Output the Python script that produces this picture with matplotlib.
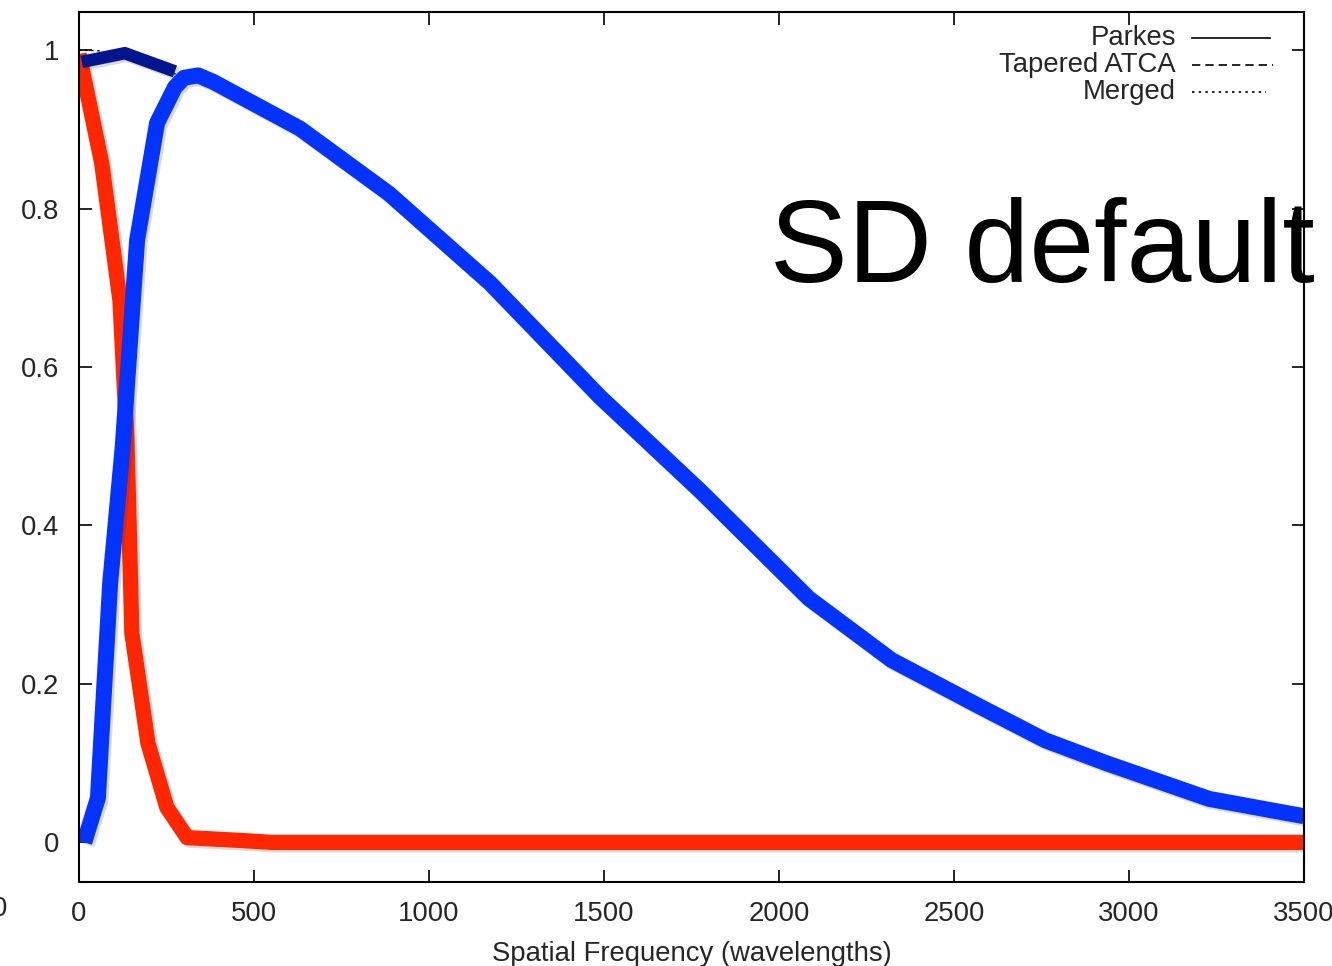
import matplotlib
matplotlib.use("Agg")
import matplotlib.pyplot as plt
import matplotlib.patheffects as pe
from matplotlib.lines import Line2D

plt.rcParams['font.family'] = ['Liberation Sans', 'DejaVu Sans']

# Parkes single-dish response (red)
parkes_x = [0, 65, 117, 137, 151, 197, 251, 309, 460, 550, 3500]
parkes_y = [0.995, 0.857, 0.684, 0.508, 0.264, 0.125, 0.044, 0.006, 0.0025, 0.0, 0.0]

# Tapered ATCA response (blue)
atca_x = [15, 54, 89, 125, 166, 223, 274, 300, 340, 383, 631, 885, 1174, 1489,
          1774, 2085, 2322, 2580, 2760, 2935, 3228, 3500]
atca_y = [0.0, 0.056, 0.327, 0.50, 0.76, 0.908, 0.953, 0.965, 0.968, 0.96, 0.901,
          0.819, 0.706, 0.562, 0.444, 0.308, 0.23, 0.17, 0.129, 0.10, 0.055, 0.033]

# Merged response at low spatial frequency (navy)
merged_x = [8, 131, 274]
merged_y = [0.985, 0.996, 0.973]

# Thin reference curves underneath
thin_merged_x = [0, 60, 131, 274, 340, 631, 885, 1174, 1489, 1774, 2085, 2322, 2580, 2760, 2935, 3228, 3500]
thin_merged_y = [1.0, 0.999, 0.99, 0.97, 0.968, 0.901, 0.819, 0.706, 0.562, 0.444, 0.308, 0.23, 0.17,
                 0.129, 0.10, 0.055, 0.033]

legend_labels = ["Parkes", "Tapered ATCA", "Merged"]
x_ticks = [0, 500, 1000, 1500, 2000, 2500, 3000, 3500]
y_ticks = [0, 0.2, 0.4, 0.6, 0.8, 1.0]
y_tick_labels = ["0", "0.2", "0.4", "0.6", "0.8", "1"]

W, H = 1332, 966
fig = plt.figure(figsize=(W / 100, H / 100), dpi=100)
ax = fig.add_axes([79 / W, 1 - 882 / H, (1304 - 79) / W, (882 - 12) / H])
ax.set_xlim(0, 3500)
ax.set_ylim(-0.05, 1.048)

text_color = '#262626'
fs = 19.8

# thin black gnuplot-style curves
ax.plot(parkes_x, parkes_y, color='black', lw=1.1, ls='-', zorder=2)
ax.plot(atca_x, atca_y, color='black', lw=1.1, ls=(0, (5, 3)), zorder=2)
ax.plot(thin_merged_x, thin_merged_y, color='black', lw=1.1, ls=(0, (1.5, 2.5)), zorder=2)

shadow = [pe.SimpleLineShadow(offset=(1.8, -1.8), shadow_color='0.2', alpha=0.18), pe.Normal()]

ax.plot(parkes_x, parkes_y, color='#ff2600', lw=11, solid_capstyle='butt',
        solid_joinstyle='round', zorder=3, path_effects=shadow)
ax.plot(merged_x, merged_y, color='#03168f', lw=9, solid_capstyle='butt',
        solid_joinstyle='round', zorder=4, path_effects=shadow)
ax.plot(atca_x, atca_y, color='#0433ff', lw=11.5, solid_capstyle='butt',
        solid_joinstyle='round', zorder=5, path_effects=shadow)

# axes frame and ticks
for s in ax.spines.values():
    s.set_linewidth(1.5)
    s.set_color('black')
    s.set_zorder(6)
ax.set_xticks(x_ticks)
ax.set_yticks(y_ticks)
ax.set_yticklabels(y_tick_labels)
ax.tick_params(direction='in', length=9, width=1.2, top=True, right=True,
               labelsize=fs, colors='black', labelcolor=text_color)
ax.tick_params(axis='x', pad=14)
ax.tick_params(axis='y', pad=14)
ax.set_xlabel("Spatial Frequency (wavelengths)", fontsize=fs, color=text_color, labelpad=10)

# gnuplot-style key
styles = ['-', (0, (5, 3)), (0, (1.5, 2.5))]
ys = [0.970, 0.939, 0.908]
ends = [0.9722, 0.9745, 0.9690]
for lab, st, yy, xe in zip(legend_labels, styles, ys, ends):
    ax.text(0.8955, yy, lab, transform=ax.transAxes, ha='right', va='center',
            fontsize=fs, color=text_color, zorder=7)
    ax.add_line(Line2D([0.9086, xe], [yy, yy], transform=ax.transAxes, color='black',
                       lw=1.2, ls=st, zorder=7))

ax.text(770 / W, 1 - 282 / H, "SD default", transform=fig.transFigure, fontsize=84,
        color='black', ha='left', va='baseline', zorder=10)

fig.text(-0.006, 1 - 909 / H, "0", fontsize=fs, color=text_color, ha='left', va='center')

fig.savefig("out.png", dpi=100, facecolor='white')
